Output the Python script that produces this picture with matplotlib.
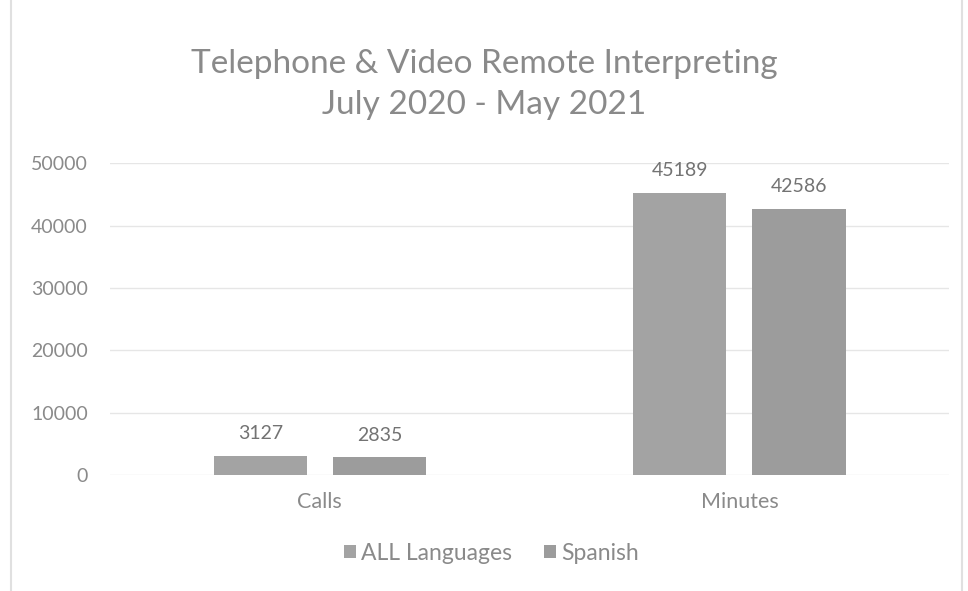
import matplotlib
matplotlib.use("Agg")
import matplotlib.pyplot as plt
import numpy as np

categories = ["Calls", "Minutes"]
series_names = ["ALL Languages", "Spanish"]
all_languages = [3127, 45189]
spanish = [2835, 42586]
yticks = [0, 10000, 20000, 30000, 40000, 50000]

plt.rcParams['font.family'] = ['Lato', 'DejaVu Sans']
text_col = "#8a8a8a"

fig = plt.figure(figsize=(9.68, 5.91), dpi=100)
fig.patch.set_facecolor("white")
ax = fig.add_axes([0.1136, 0.196, 0.867, 0.528])

x = np.arange(len(categories))
w = 0.222
off = 0.142
colors = ["#a3a3a3", "#9c9c9c"]
b1 = ax.bar(x - off, all_languages, w, color=colors[0], label=series_names[0], zorder=3)
b2 = ax.bar(x + off, spanish, w, color=colors[1], label=series_names[1], zorder=3)
for bars in (b1, b2):
    for r in bars:
        ax.annotate(f"{int(r.get_height())}", (r.get_x() + r.get_width() / 2, r.get_height()),
                    xytext=(0, 10), textcoords="offset points", ha="center", va="bottom",
                    fontsize=14, color="#737373")

ax.set_xlim(-0.5, 1.5)
ax.set_ylim(0, 50000)
ax.set_yticks(yticks)
ax.set_yticklabels([str(t) for t in yticks])
ax.set_xticks(x)
ax.set_xticklabels(categories)
ax.tick_params(axis="y", length=0, labelsize=14, colors=text_col, pad=16)
ax.tick_params(axis="x", length=0, labelsize=15.5, colors=text_col, pad=12)
ax.grid(axis="y", color="#e6e6e6", linewidth=1, zorder=0)
for s in ax.spines.values():
    s.set_visible(False)

fig.text(0.5, 0.857, "Telephone & Video Remote Interpreting\nJuly 2020 - May 2021",
         ha="center", va="center", fontsize=24, color="#8a8a8a", linespacing=1.42)

leg = fig.legend(handles=[b1, b2], loc="center", bbox_to_anchor=(0.508, 0.064), ncol=2,
                 frameon=False, fontsize=16.5, handlelength=0.5, handleheight=0.5,
                 columnspacing=1.4, handletextpad=0.25)
for t in leg.get_texts():
    t.set_color(text_col)

# chart border
fig.add_artist(plt.Line2D([0.011, 0.011], [0.0, 1.0], color="#e0e0e0", lw=1.5, transform=fig.transFigure))
fig.add_artist(plt.Line2D([0.994, 0.994], [0.0, 1.0], color="#e0e0e0", lw=1.5, transform=fig.transFigure))

fig.savefig("out.png", dpi=100, facecolor="white")
